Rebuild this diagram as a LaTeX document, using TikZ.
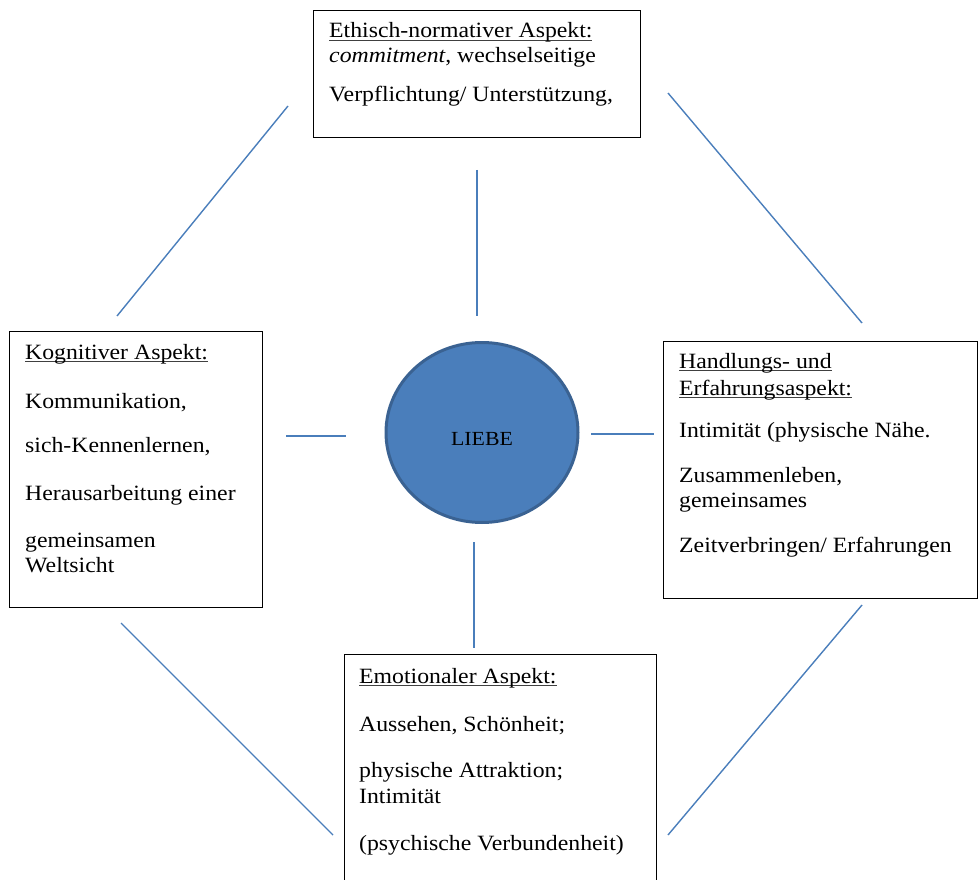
\documentclass[tikz,border=0pt]{standalone}
\usepackage{fontspec}
\setmainfont{Liberation Serif}[FakeStretch=1.09]
\usetikzlibrary{shapes.geometric}
\definecolor{linkblue}{HTML}{4A7EBB}
\definecolor{ballfill}{HTML}{4A7EBB}
\definecolor{balledge}{HTML}{3A6292}
\newcommand\headul[1]{\setbox0\hbox{#1}\rlap{\color{black!75}\rule[-2.6pt]{\wd0}{0.9pt}}\box0}
\tikzset{
  aspectbox/.style={draw=black, line width=1.3pt, fill=white, anchor=north west, inner sep=0pt},
  txt/.style={anchor=base west, inner sep=0pt, font=\fontsize{21.8pt}{25pt}\selectfont},
  link/.style={draw=linkblue, line width=1.4pt},
  ball/.style={ellipse, fill=ballfill, draw=balledge, line width=3pt, inner sep=0pt, minimum width=192pt, minimum height=180pt}
}
\begin{document}
\begin{tikzpicture}[x=1pt,y=-1pt]
\useasboundingbox (0,0) rectangle (978,880);

% boxes
\node[aspectbox, minimum width=327pt, minimum height=127pt] (ethik) at (313,10) {};
\node[aspectbox, minimum width=253pt, minimum height=276pt] (kogn) at (9,331) {};
\node[aspectbox, minimum width=314pt, minimum height=257pt] (handl) at (663,341) {};
\node[aspectbox, minimum width=312pt, minimum height=240pt] (emot) at (344,654) {};

% circle
\node[ball] (liebe) at (482,432.5) {};
\node[txt, anchor=base, font=\fontsize{20pt}{24pt}\selectfont] (liebetxt) at (482,445) {LIEBE};

% texts top
\node[txt] (e1) at (329,38) {\headul{Ethisch-normativer Aspekt:}};
\node[txt] (e2) at (329,63) {\textit{commitment}, wechselseitige};
\node[txt] (e3) at (329,102) {Verpflichtung/ Unterstützung,};

% texts left
\node[txt] (k1) at (25,359) {\headul{Kognitiver Aspekt:}};
\node[txt] (k2) at (25,408) {Kommunikation,};
\node[txt] (k3) at (25,452) {sich-Kennenlernen,};
\node[txt] (k4) at (25,500) {Herausarbeitung einer};
\node[txt] (k5) at (25,547) {gemeinsamen};
\node[txt] (k6) at (25,572) {Weltsicht};

% texts right
\node[txt] (h1) at (679,368) {\headul{Handlungs- und}};
\node[txt] (h2) at (679,395) {\headul{Erfahrungsaspekt:}};
\node[txt] (h3) at (679,437) {Intimität (physische Nähe.};
\node[txt] (h4) at (679,482) {Zusammenleben,};
\node[txt] (h5) at (679,507) {gemeinsames};
\node[txt] (h6) at (679,552) {Zeitverbringen/ Erfahrungen};

% texts bottom
\node[txt] (m1) at (359,683) {\headul{Emotionaler Aspekt:}};
\node[txt] (m2) at (359,731) {Aussehen, Schönheit;};
\node[txt] (m3) at (359,777) {physische Attraktion;};
\node[txt] (m4) at (359,803) {Intimität};
\node[txt] (m5) at (359,850) {(psychische Verbundenheit)};

% free connector end points
\coordinate (tl1) at (288,106); \coordinate (tl2) at (117,316);
\coordinate (tr1) at (668,93);  \coordinate (tr2) at (862,323);
\coordinate (bl1) at (121,623); \coordinate (bl2) at (333,835);
\coordinate (br1) at (862,605); \coordinate (br2) at (668,835);
\coordinate (vt1) at (477,170); \coordinate (vt2) at (477,316);
\coordinate (vb1) at (474,542); \coordinate (vb2) at (474,648);
\coordinate (hl1) at (286,436); \coordinate (hl2) at (346,436);
\coordinate (hr1) at (591,434); \coordinate (hr2) at (654,434);

\draw[link] (tl1) -- (tl2);
\draw[link] (tr1) -- (tr2);
\draw[link] (bl1) -- (bl2);
\draw[link] (br1) -- (br2);
\draw[link] (vt1) -- (vt2);
\draw[link] (vb1) -- (vb2);
\draw[link] (hl1) -- (hl2);
\draw[link] (hr1) -- (hr2);
\end{tikzpicture}
\end{document}
